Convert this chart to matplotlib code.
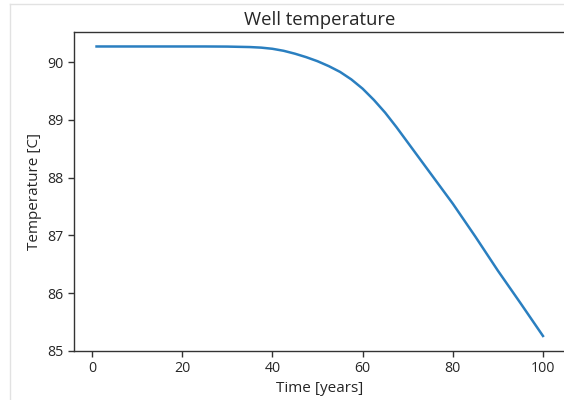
import matplotlib
matplotlib.use("Agg")
import matplotlib.pyplot as plt
from matplotlib.lines import Line2D

# Simulated well temperature over the production period
years = [1, 5, 10, 15, 20, 25, 30, 35, 37.5, 40, 42.5, 45, 47.5, 50, 52.5,
         55, 57.5, 60, 62.5, 65, 67.5, 70, 72.5, 75, 80, 85, 90, 95, 100]
temperature = [90.27, 90.27, 90.27, 90.27, 90.27, 90.27, 90.268, 90.26, 90.25,
               90.23, 90.195, 90.145, 90.085, 90.015, 89.93, 89.83, 89.70,
               89.54, 89.345, 89.125, 88.875, 88.61, 88.345, 88.08, 87.55,
               86.98, 86.39, 85.83, 85.26]

x_ticks = [0, 20, 40, 60, 80, 100]
y_ticks = [85, 86, 87, 88, 89, 90]

plt.rcParams['font.family'] = ['Open Sans', 'DejaVu Sans']
plt.rcParams['font.size'] = 10.2

fig = plt.figure(figsize=(5.64, 4.0), dpi=100)
ax = fig.add_axes([0.1316, 0.1225, 0.8707, 0.7975])

ax.plot(years, temperature, color='#2a7fc0', linewidth=1.8)

ax.set_xticks(x_ticks)
ax.set_yticks(y_ticks)
ax.set_title("Well temperature", fontsize=13.3, color='#262626', pad=5)
ax.set_xlabel("Time [years]", fontsize=11.0, color='#262626', labelpad=3.5)
ax.set_ylabel("Temperature [C]", fontsize=11.0, color='#262626', labelpad=4)

for side in ax.spines.values():
    side.set_linewidth(1.0)
    side.set_color('#333333')
ax.tick_params(width=1.0, length=4.5, pad=3, color='#333333', labelcolor='#262626')

# thin grey border along the top and left of the canvas
fig.add_artist(Line2D([10 / 564, 1.0], [1 - 4 / 400, 1 - 4 / 400],
                      transform=fig.transFigure, color='#e2e2e2', linewidth=1.0))
fig.add_artist(Line2D([10 / 564, 10 / 564], [0.0, 1 - 4 / 400],
                      transform=fig.transFigure, color='#e2e2e2', linewidth=1.0))

fig.savefig("out.png", dpi=100)
